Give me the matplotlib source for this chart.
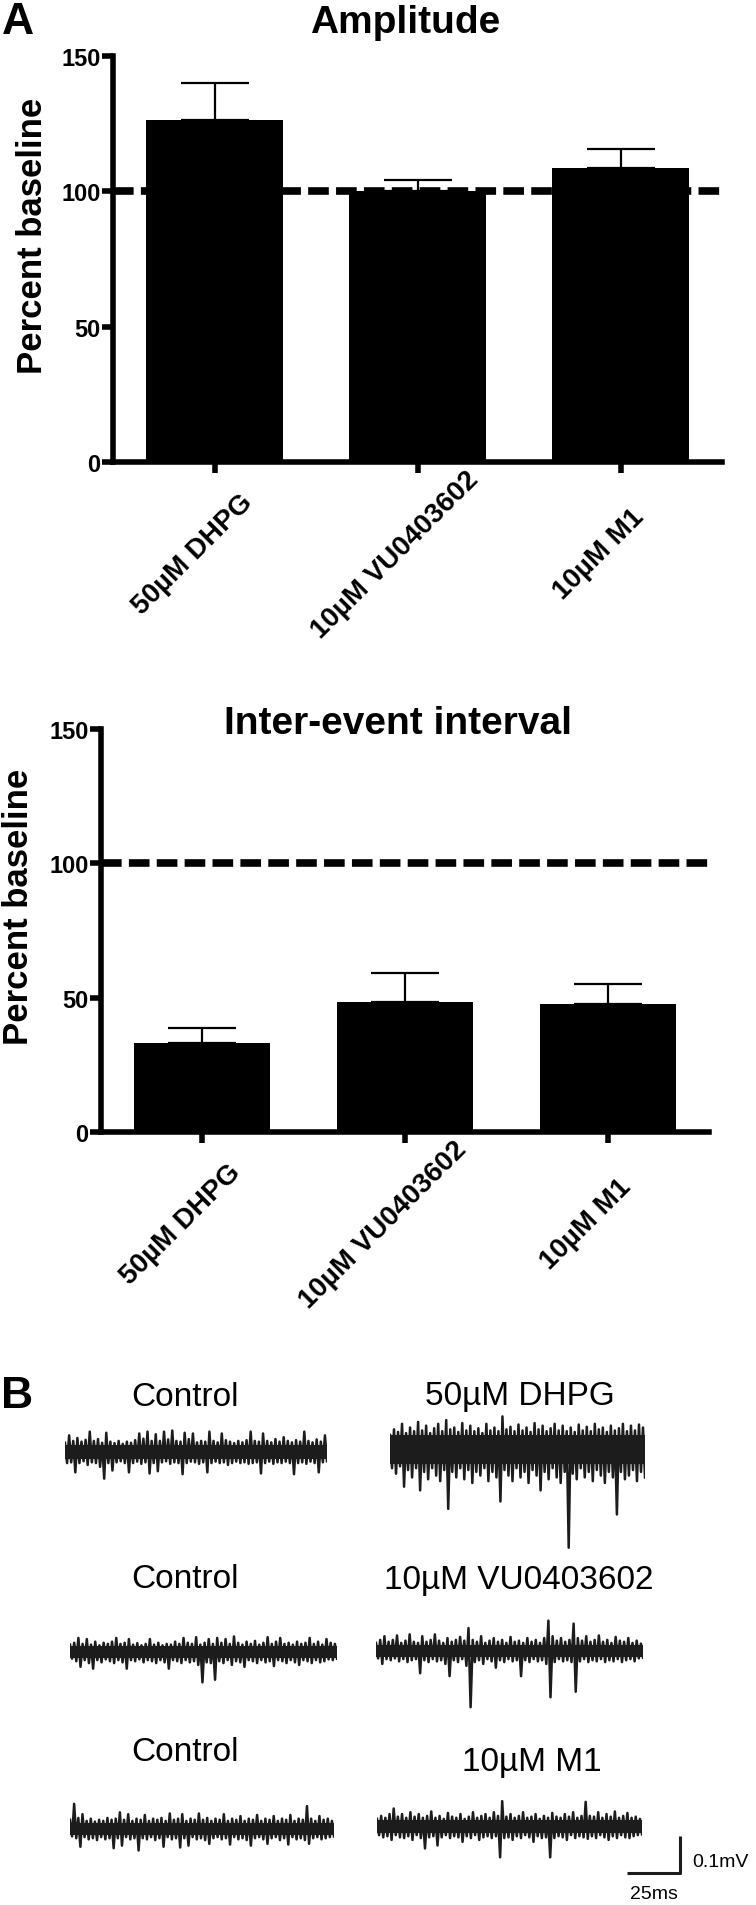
import numpy as np
import matplotlib
matplotlib.use("Agg")
import matplotlib.pyplot as plt
from matplotlib.transforms import ScaledTranslation

plt.rcParams['font.family'] = ['Liberation Sans', 'DejaVu Sans']

# ---- data ----
groups = ["50µM DHPG", "10µM VU0403602", "10µM M1"]
amp_mean = [126.5, 100.3, 108.7]
amp_sem = [13.5, 4.0, 7.0]
iei_mean = [33.1, 48.3, 47.6]
iei_sem = [5.5, 10.9, 7.4]
yticks = [0, 50, 100, 150]

# example traces (µV), upper / lower excursions, 125 ms each
r1c_up = [25, 45, 30, 38, 28, 33, 55, 30, 35, 25, 52, 28, 24, 30, 22, 28, 25, 32, 50, 36, 55, 30,
          48, 30, 55, 34, 58, 30, 28, 52, 35, 50, 26, 30, 28, 55, 30, 26, 50, 32, 28, 24, 30, 26,
          32, 55, 30, 28, 50, 30, 26, 35, 28, 40, 30, 26, 32, 28, 55, 30, 26, 34, 28, 45]
r1c_lo = [-30, -28, -55, -30, -25, -35, -28, -30, -40, -72, -30, -50, -28, -25, -30, -55, -30, -26,
          -32, -28, -58, -30, -52, -28, -25, -32, -28, -30, -60, -30, -26, -28, -32, -28, -55, -30,
          -26, -30, -28, -35, -30, -26, -30, -28, -32, -30, -28, -58, -30, -26, -32, -28, -30, -26,
          -30, -60, -30, -28, -32, -26, -30, -55, -28, -25]
r1d_up = [30, 45, 38, 60, 35, 50, 40, 65, 42, 55, 35, 48, 60, 40, 70, 45, 50, 38, 62, 42, 55, 40,
          48, 35, 60, 42, 50, 40, 80, 45, 52, 40, 58, 42, 50, 38, 62, 45, 55, 40, 48, 60, 42, 55,
          40, 50, 38, 58, 42, 52, 40, 60, 45, 50, 38, 55, 42, 48, 60, 40, 55, 42, 58, 50]
r1d_lo = [-60, -75, -55, -110, -65, -85, -60, -120, -70, -90, -60, -80, -95, -65, -170, -70, -85,
          -60, -90, -65, -100, -70, -80, -60, -95, -70, -85, -150, -65, -80, -95, -60, -85, -70,
          -100, -65, -80, -120, -70, -90, -60, -85, -100, -70, -275, -75, -90, -60, -85, -70, -95,
          -65, -80, -100, -70, -85, -185, -70, -90, -80, -65, -95, -70, -85]
r2c_up = [20, 25, 38, 22, 35, 20, 28, 18, 25, 22, 28, 38, 22, 25, 35, 20, 24, 18, 22, 35, 20, 25,
          18, 22, 20, 28, 22, 38, 25, 22, 40, 20, 25, 35, 22, 38, 25, 35, 22, 42, 25, 20, 28, 22,
          30, 20, 25, 40, 22, 28, 38, 22, 25, 20, 28, 22, 25, 38, 22, 28, 20, 35, 25, 22]
r2c_lo = [-18, -25, -40, -22, -30, -45, -22, -28, -20, -25, -30, -22, -28, -45, -22, -25, -20, -28,
          -22, -25, -30, -22, -28, -45, -22, -25, -30, -22, -28, -25, -35, -82, -28, -30, -75, -25,
          -30, -22, -35, -25, -28, -40, -22, -25, -30, -22, -28, -25, -38, -22, -25, -30, -22, -28,
          -35, -22, -25, -30, -22, -28, -25, -20, -22, -18]
r2v_up = [22, 30, 40, 25, 30, 42, 22, 28, 45, 25, 22, 40, 25, 30, 45, 28, 22, 35, 25, 30, 38, 28,
          62, 30, 25, 40, 22, 28, 35, 25, 30, 22, 38, 25, 28, 22, 35, 25, 30, 22, 35, 82, 40, 28,
          35, 25, 30, 74, 35, 28, 40, 25, 30, 42, 25, 30, 22, 38, 28, 25, 35, 22, 28, 20]
r2v_lo = [-20, -35, -22, -25, -20, -28, -22, -30, -25, -22, -60, -25, -30, -22, -28, -25, -35, -68,
          -25, -30, -22, -40, -152, -30, -25, -35, -22, -28, -45, -25, -30, -22, -28, -25, -68, -25,
          -30, -22, -28, -25, -35, -125, -30, -22, -28, -25, -30, -110, -28, -22, -30, -25, -28,
          -22, -30, -25, -28, -22, -30, -25, -22, -28, -20, -18]
r3c_up = [25, 68, 30, 40, 22, 28, 20, 25, 22, 30, 25, 28, 45, 25, 40, 22, 28, 25, 38, 22, 28, 25,
          30, 22, 42, 25, 28, 40, 22, 28, 25, 42, 25, 30, 22, 28, 25, 40, 22, 28, 25, 35, 22, 28,
          25, 38, 22, 28, 25, 35, 22, 28, 25, 38, 22, 28, 25, 62, 28, 22, 35, 25, 28, 22]
r3c_lo = [-20, -25, -48, -22, -28, -25, -30, -22, -28, -25, -52, -25, -45, -22, -28, -25, -58, -25,
          -28, -22, -30, -25, -48, -22, -28, -25, -50, -25, -45, -22, -28, -25, -30, -40, -25, -22,
          -28, -25, -42, -22, -28, -25, -30, -45, -25, -22, -28, -40, -25, -22, -30, -25, -42, -22,
          -28, -25, -30, -40, -25, -22, -28, -25, -22, -20]
r3m_up = [22, 30, 25, 35, 50, 28, 35, 25, 40, 28, 35, 25, 30, 42, 25, 30, 22, 38, 28, 25, 35, 22,
          28, 40, 25, 30, 35, 25, 40, 30, 70, 28, 35, 25, 30, 40, 25, 28, 35, 22, 30, 25, 38, 28,
          25, 35, 28, 40, 25, 30, 68, 30, 28, 40, 25, 35, 28, 42, 25, 30, 38, 25, 28, 22]
r3m_lo = [-22, -28, -25, -35, -22, -28, -30, -25, -35, -22, -30, -58, -28, -25, -50, -28, -22, -30,
          -25, -28, -40, -25, -30, -22, -35, -28, -25, -30, -25, -82, -30, -28, -35, -25, -30, -22,
          -28, -40, -25, -30, -28, -82, -30, -25, -28, -35, -22, -30, -25, -28, -32, -25, -30, -22,
          -28, -35, -25, -30, -22, -28, -30, -25, -22, -20]
trace_ms = 125
scale_ms = 25
scale_uv = 100

# ---- layout (pixels of the 756 x 1906 figure) ----
W, H, DPI = 756, 1906, 100
fig = plt.figure(figsize=(W / DPI, H / DPI), dpi=DPI)


def rect(x0, y0, x1, y1):
    # x0,y0 = top-left, x1,y1 = bottom-right in pixels from top-left
    return [x0 / W, 1 - y1 / H, (x1 - x0) / W, (y1 - y0) / H]


def ftext(x, y, s, **kw):
    fig.text(x / W, 1 - y / H, s, **kw)


def bar_panel(r, means, sems, title, title_xy, ylab_xy):
    ax = fig.add_axes(r)
    xs = np.arange(len(groups))
    ax.axhline(100, color='black', lw=5.5, ls=(0, (2.7, 0.95)), zorder=1)
    ax.errorbar(xs, means, yerr=[np.zeros(len(sems)), sems], fmt='none', ecolor='black',
                elinewidth=1.6, capsize=24.5, capthick=1.6, zorder=2)
    ax.bar(xs, means, width=0.67, color='black', zorder=3)
    ax.set_xlim(-0.5, 2.5)
    ax.set_ylim(0, 150)
    ax.set_yticks(yticks)
    ax.set_xticks(xs)
    ax.set_xticklabels([])
    for s in ['top', 'right']:
        ax.spines[s].set_visible(False)
    for s in ['left', 'bottom']:
        ax.spines[s].set_linewidth(4)
        ax.spines[s].set_capstyle('projecting')
    ax.tick_params(axis='both', length=8, width=4, pad=1)
    for lab in ax.get_yticklabels():
        lab.set_fontsize(17)
        lab.set_fontweight('bold')
    off = ScaledTranslation(-0.22, -0.92, fig.dpi_scale_trans)
    for i, g in enumerate(groups):
        ax.text(i, 0, g, transform=ax.get_xaxis_transform() + off, rotation=45,
                ha='center', va='center', fontsize=20, fontweight='bold')
    ftext(*title_xy, title, ha='center', va='center', fontsize=28, fontweight='bold')
    ftext(*ylab_xy, "Percent baseline", rotation=90, ha='center', va='center',
          fontsize=25, fontweight='bold')
    return ax


bar_panel(rect(113, 57, 722, 463), amp_mean, amp_sem, "Amplitude", (405, 23), (33, 236))
bar_panel(rect(101, 730, 709, 1133), iei_mean, iei_sem, "Inter-event interval", (398, 724), (19, 907))

ftext(18, 22, "A", ha='center', va='center', fontsize=32, fontweight='bold')
ftext(17, 1397, "B", ha='center', va='center', fontsize=32, fontweight='bold')

# ---- panel B traces ----
px_per_uv = 0.37


def trace(x0, x1, base, up, lo):
    r = rect(x0, base - 100 * px_per_uv, x1, base + 300 * px_per_uv)
    ax = fig.add_axes(r)
    up = np.asarray(up, float)
    lo = np.asarray(lo, float)
    # solid core of the noise band
    t_up = np.linspace(0, trace_ms, len(up))
    ax.fill_between(t_up, 0.6 * np.median(up), 0.6 * np.median(lo), color='#1c1c1c', lw=0)
    # individual excursions as a zig-zag, like a densely sampled recording
    y = np.empty(2 * len(up))
    y[0::2] = up
    y[1::2] = lo
    t = np.linspace(0, trace_ms, len(y))
    ax.plot(t, y, color='#1c1c1c', lw=1.8, solid_joinstyle='round')
    ax.set_xlim(0, trace_ms)
    ax.set_ylim(-300, 100)
    ax.axis('off')


trace(65, 327, 1453, r1c_up, r1c_lo)
trace(390, 645, 1447, r1d_up, r1d_lo)
trace(70, 337, 1653, r2c_up, r2c_lo)
trace(376, 643, 1652, r2v_up, r2v_lo)
trace(70, 334, 1830, r3c_up, r3c_lo)
trace(377, 642, 1828, r3m_up, r3m_lo)

row_labels = [("Control", "50µM DHPG"), ("Control", "10µM VU0403602"), ("Control", "10µM M1")]
left_y = [1397, 1580, 1753]
right_xy = [(520, 1397), (519, 1580), (532, 1763)]
for (l, rr), ly, (rx, ry) in zip(row_labels, left_y, right_xy):
    ftext(185, ly, l, ha='center', va='center', fontsize=24)
    ftext(rx, ry, rr, ha='center', va='center', fontsize=24)

# scale bar
sb = fig.add_axes(rect(627, 1837, 680, 1874))
sb.plot([0, scale_ms, scale_ms], [0, 0, scale_uv], color='#1c1c1c', lw=2.2,
        solid_capstyle='butt', clip_on=False)
sb.set_xlim(0, scale_ms)
sb.set_ylim(0, scale_uv)
sb.axis('off')
ftext(692, 1863, "0.1mV", ha='left', va='center', fontsize=14)
ftext(654, 1895, "25ms", ha='center', va='center', fontsize=14)

fig.savefig("out.png", dpi=DPI)
